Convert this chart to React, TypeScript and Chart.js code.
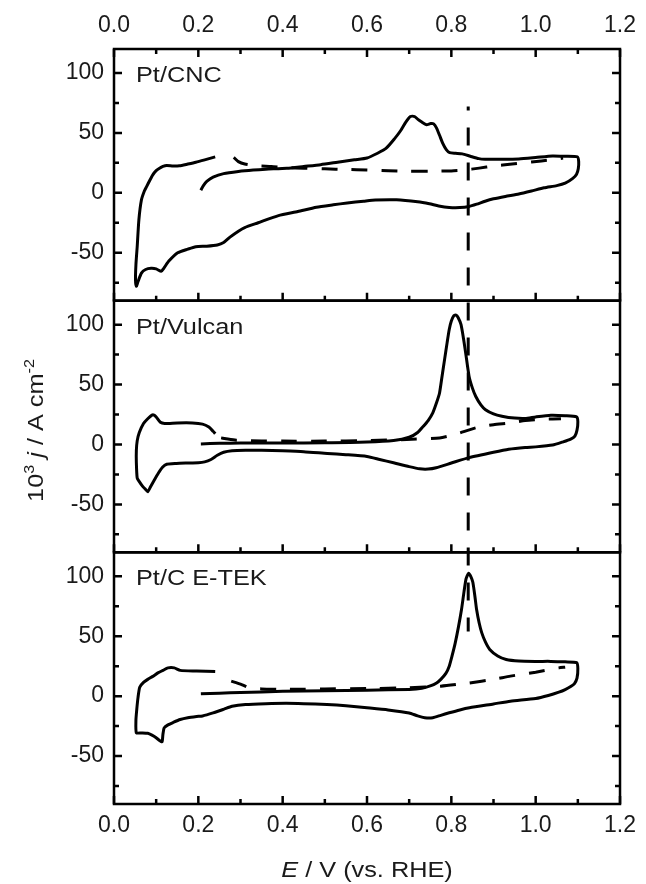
import React, { useEffect, useRef } from 'react';
import { Chart, registerables } from 'chart.js';

Chart.register(...registerables);

const FONT = '"Liberation Sans", Arial, Helvetica, sans-serif';

// ---- axes ----
const xMin = 0;
const xMax = 1.2;
const yMin = -90;
const yMax = 120;
const xMajorTicks = [0, 0.2, 0.4, 0.6, 0.8, 1.0, 1.2];
const xMinorTicks = [0.1, 0.3, 0.5, 0.7, 0.9, 1.1];
const yMajorTicks = [-50, 0, 50, 100];
const yMinorTicks = [-75, -25, 25, 75];
const panelNames = ['Pt/CNC', 'Pt/Vulcan', 'Pt/C E-TEK'];

// vertical reference line (E, top value in panel 1, bottom value in panel 3)
const markerE = 0.84;
const markerTopJ = 72;
const markerBottomJ = 54;

// ---- Pt/CNC ----
const cncSolidE = [0.206, 0.212, 0.22, 0.235, 0.26, 0.295, 0.33, 0.36, 0.41, 0.45, 0.49, 0.53, 0.57, 0.6, 0.625, 0.645, 0.665, 0.68, 0.692, 0.703, 0.713, 0.72, 0.73, 0.741, 0.751, 0.758, 0.765, 0.772, 0.78, 0.788, 0.796, 0.81, 0.826, 0.845, 0.865, 0.88, 0.92, 0.96, 1.0, 1.04, 1.07, 1.099, 1.102, 1.101, 1.097, 1.088, 1.07, 1.05, 1.02, 0.99, 0.96, 0.928, 0.9, 0.88, 0.86, 0.842, 0.82, 0.795, 0.77, 0.748, 0.72, 0.67, 0.62, 0.592, 0.553, 0.52, 0.48, 0.436, 0.39, 0.342, 0.31, 0.295, 0.275, 0.26, 0.245, 0.22, 0.194, 0.175, 0.151, 0.13, 0.118, 0.112, 0.1, 0.088, 0.075, 0.065, 0.057, 0.053, 0.051, 0.052, 0.055, 0.059, 0.065, 0.072, 0.077, 0.085, 0.092, 0.1, 0.108, 0.116, 0.125, 0.14, 0.155, 0.175, 0.194, 0.215, 0.24];
const cncSolidJ = [2.2, 6, 9.5, 13, 16, 17.8, 19, 19.7, 20.5, 22, 23.5, 25.5, 27.5, 29, 33, 37, 45, 52, 59, 63.6, 63.6, 61.5, 59, 56.8, 57.8, 57.5, 54, 48, 41, 36, 33.5, 33, 32.5, 30.5, 28.5, 28, 28, 28.3, 29.5, 30.8, 30.5, 30, 26, 20, 15.5, 12, 8, 6, 4.2, 1.5, -1, -3, -5, -7, -9.5, -11.4, -12.3, -12.2, -11, -9.2, -7.5, -5.8, -6, -7, -8.5, -10, -12, -15.6, -19, -25, -29, -32, -37, -41.5, -43.5, -44.5, -45, -47, -50, -57, -63, -65.5, -63.5, -63, -64, -67, -74, -78, -73, -60, -45, -22.5, -6, 1.5, 5, 10.5, 15, 18.5, 20.5, 22, 22.8, 22.3, 22.5, 24, 25.5, 27.5, 30];
const cncDashE = [0.284, 0.295, 0.31, 0.34, 0.373, 0.41, 0.45, 0.5, 0.55, 0.6, 0.65, 0.7, 0.75, 0.8, 0.83, 0.866, 0.9, 0.944, 0.99, 1.037, 1.065];
const cncDashJ = [29.5, 26, 24, 22.5, 22, 21, 20.5, 20, 19.5, 19, 18.5, 18, 18, 18.3, 19, 20.6, 22.3, 24, 25.8, 27.5, 29];

// ---- Pt/Vulcan ----
const vulSolidE = [0.206, 0.25, 0.3, 0.4, 0.5, 0.6, 0.663, 0.7, 0.72, 0.733, 0.745, 0.756, 0.765, 0.772, 0.778, 0.784, 0.79, 0.795, 0.8, 0.806, 0.811, 0.816, 0.823, 0.829, 0.834, 0.842, 0.85, 0.858, 0.87, 0.881, 0.9, 0.92, 0.95, 0.975, 1.0, 1.036, 1.07, 1.097, 1.1, 1.098, 1.093, 1.083, 1.065, 1.04, 1.0, 0.975, 0.936, 0.9, 0.842, 0.8, 0.764, 0.745, 0.725, 0.7, 0.663, 0.63, 0.6, 0.55, 0.506, 0.45, 0.4, 0.35, 0.312, 0.28, 0.26, 0.245, 0.23, 0.215, 0.2, 0.17, 0.148, 0.125, 0.115, 0.105, 0.095, 0.087, 0.08, 0.075, 0.068, 0.06, 0.055, 0.053, 0.053, 0.055, 0.06, 0.07, 0.08, 0.09, 0.095, 0.1, 0.11, 0.12, 0.15, 0.186, 0.21, 0.225, 0.235, 0.24];
const vulSolidJ = [0.5, 1, 1.2, 1.3, 1.4, 2, 3.3, 6, 10, 15, 20, 26.4, 35, 43, 57, 71, 85, 96, 103, 107.5, 108, 106, 100, 88, 76.4, 57, 47, 40, 33, 29, 25.5, 23.6, 22, 21.7, 23, 24.4, 24, 23, 19, 12, 7, 4.5, 2.2, -0.5, -2, -2.5, -4, -6.5, -11, -15.5, -19.4, -20.5, -20.3, -18.5, -15.3, -12.5, -10, -8.5, -7.5, -6, -5.3, -4.8, -4.8, -5.2, -6.5, -9, -12.5, -14.5, -15.2, -15.5, -15.8, -16.5, -19, -24, -30, -35, -39.4, -37.5, -35, -31, -28, -15, -5, 3, 10, 17.5, 21.5, 24.5, 24.5, 23, 18.5, 17.5, 18, 18, 17, 14.5, 11, 9];
const vulDashE = [0.254, 0.27, 0.29, 0.35, 0.4, 0.5, 0.6, 0.694, 0.772, 0.81, 0.858, 0.9, 0.94, 0.975, 1.02, 1.06];
const vulDashJ = [5.5, 4.5, 3.6, 3, 2.8, 2.8, 3.2, 4.2, 5.5, 8.5, 13.9, 16.5, 18, 20, 21, 21.5];

// ---- Pt/C E-TEK ----
const etekSolidE = [0.206, 0.25, 0.3, 0.4, 0.5, 0.6, 0.7, 0.73, 0.75, 0.765, 0.775, 0.787, 0.795, 0.802, 0.809, 0.817, 0.824, 0.83, 0.835, 0.841, 0.846, 0.851, 0.856, 0.86, 0.866, 0.872, 0.881, 0.891, 0.91, 0.93, 0.96, 1.0, 1.036, 1.07, 1.097, 1.1, 1.098, 1.092, 1.084, 1.07, 1.055, 1.03, 1.0, 0.94, 0.9, 0.843, 0.82, 0.795, 0.775, 0.756, 0.737, 0.72, 0.7, 0.65, 0.6, 0.55, 0.505, 0.45, 0.408, 0.36, 0.312, 0.28, 0.26, 0.235, 0.21, 0.196, 0.175, 0.157, 0.14, 0.128, 0.119, 0.116, 0.114, 0.108, 0.1, 0.09, 0.08, 0.065, 0.053, 0.052, 0.054, 0.057, 0.061, 0.07, 0.08, 0.092, 0.104, 0.116, 0.128, 0.143, 0.157, 0.196, 0.24];
const etekSolidJ = [2, 2.5, 3, 4, 4.5, 5, 5.6, 6.5, 8.5, 11, 14, 19, 25, 34, 44, 58, 72, 87, 98, 102.5, 100, 95, 83, 72, 61, 53, 45, 39, 33.5, 30.6, 29.3, 29, 29, 28.6, 28, 23, 15, 10.5, 8.3, 5.5, 3.3, 0.5, -2, -4.2, -6.5, -9.7, -11.5, -13.9, -16, -18, -18, -16.5, -14, -11.5, -9.7, -8, -7, -6.3, -6, -6.3, -7, -8.5, -11, -14, -16.5, -17, -18, -19.5, -22, -24, -26.5, -32, -38, -37, -34.7, -32.5, -31, -30.7, -30.6, -20, -11, -1, 7.5, 11.5, 14, 16.5, 19.4, 21.5, 23.6, 23.6, 21.5, 21, 20.5];
const etekDashE = [0.278, 0.3, 0.321, 0.35, 0.389, 0.45, 0.5, 0.6, 0.7, 0.775, 0.843, 0.9, 0.94, 1.0, 1.055, 1.07];
const etekDashJ = [12.5, 10, 7, 6, 5.8, 5.8, 6, 6.3, 7, 8.3, 11, 14, 16.7, 20, 23.6, 24.2];

const SERIES = [
  { e: cncSolidE, j: cncSolidJ, axis: 'y1', dashed: false },
  { e: cncDashE, j: cncDashJ, axis: 'y1', dashed: true },
  { e: vulSolidE, j: vulSolidJ, axis: 'y2', dashed: false },
  { e: vulDashE, j: vulDashJ, axis: 'y2', dashed: true },
  { e: etekSolidE, j: etekSolidJ, axis: 'y3', dashed: false },
  { e: etekDashE, j: etekDashJ, axis: 'y3', dashed: true },
];

const TEXT_STRETCH = 1.15;

type Run = { t: string; f: string; dy?: number };

function drawRuns(ctx: CanvasRenderingContext2D, runs: Run[], cx: number, cy: number, rot: number) {
  ctx.save();
  ctx.translate(cx, cy);
  ctx.rotate(rot);
  ctx.scale(TEXT_STRETCH, 1);
  let total = 0;
  for (const r of runs) {
    ctx.font = r.f;
    total += ctx.measureText(r.t).width;
  }
  let x = -total / 2;
  ctx.textBaseline = 'alphabetic';
  ctx.textAlign = 'left';
  for (const r of runs) {
    ctx.font = r.f;
    ctx.fillText(r.t, x, r.dy || 0);
    x += ctx.measureText(r.t).width;
  }
  ctx.restore();
}

const framePlugin = {
  id: 'panelFrame',
  afterDatasetsDraw(chart: any) {
    const ctx: CanvasRenderingContext2D = chart.ctx;
    const { left, right } = chart.chartArea;
    const xs = chart.scales.x;
    const ys = [chart.scales.y1, chart.scales.y2, chart.scales.y3];
    ctx.save();
    ctx.strokeStyle = '#000';
    ctx.fillStyle = '#1a1a1a';

    // vertical dashed reference line
    const mx = xs.getPixelForValue(markerE);
    ctx.lineWidth = 3;
    ctx.setLineDash([18, 17]);
    ctx.lineDashOffset = 14;
    ctx.beginPath();
    ctx.moveTo(mx, ys[0].getPixelForValue(markerTopJ));
    ctx.lineTo(mx, ys[2].getPixelForValue(markerBottomJ));
    ctx.stroke();
    ctx.setLineDash([]);
    ctx.lineDashOffset = 0;

    ctx.lineWidth = 2.5;
    ys.forEach((ys1: any, i: number) => {
      const top = ys1.top;
      const bottom = ys1.bottom;
      ctx.strokeRect(left, top, right - left, bottom - top);
      ctx.beginPath();
      const yTick = (v: number, len: number) => {
        const py = ys1.getPixelForValue(v);
        ctx.moveTo(left, py);
        ctx.lineTo(left + len, py);
        ctx.moveTo(right, py);
        ctx.lineTo(right - len, py);
      };
      yMajorTicks.forEach((v) => yTick(v, 8));
      yMinorTicks.forEach((v) => yTick(v, 5));
      const xTick = (v: number, len: number) => {
        const px = xs.getPixelForValue(v);
        ctx.moveTo(px, bottom);
        ctx.lineTo(px, bottom - len);
        if (i === 0) {
          ctx.moveTo(px, top);
          ctx.lineTo(px, top + len);
        }
      };
      xMajorTicks.forEach((v) => xTick(v, 8));
      xMinorTicks.forEach((v) => xTick(v, 5));
      ctx.stroke();

      // panel label
      ctx.save();
      ctx.translate(left + 22, ys1.getPixelForValue(100) + 9);
      ctx.scale(TEXT_STRETCH, 1);
      ctx.font = `22px ${FONT}`;
      ctx.textAlign = 'left';
      ctx.textBaseline = 'alphabetic';
      ctx.fillText(panelNames[i], 0, 0);
      ctx.restore();
    });

    // axis titles
    drawRuns(ctx, [
      { t: 'E', f: `italic 22px ${FONT}` },
      { t: ' / V (vs. RHE)', f: `22px ${FONT}` },
    ], (left + right) / 2, 877, 0);

    const mid = (ys[1].top + ys[1].bottom) / 2;
    drawRuns(ctx, [
      { t: '10', f: `22px ${FONT}` },
      { t: '3', f: `14px ${FONT}`, dy: -9 },
      { t: ' ', f: `22px ${FONT}` },
      { t: 'j', f: `italic 22px ${FONT}` },
      { t: ' / A cm', f: `22px ${FONT}` },
      { t: '-2', f: `14px ${FONT}`, dy: -9 },
    ], 43, mid + 4, -Math.PI / 2);
    ctx.restore();
  },
};

const tickFont = { family: FONT, size: 23 };

function yAxis(weight: number) {
  return {
    type: 'linear' as const,
    position: 'left' as const,
    stack: 'panels',
    stackWeight: 1,
    weight,
    min: yMin,
    max: yMax,
    afterBuildTicks: (s: any) => { s.ticks = yMajorTicks.map((v) => ({ value: v })); },
    afterFit: (s: any) => { s.width = 114; },
    ticks: { font: tickFont, color: '#1a1a1a', padding: 10, autoSkip: false, callback: (v: any) => String(v) },
    grid: { display: false, drawTicks: false },
    border: { display: false },
  };
}

function xAxis(position: 'top' | 'bottom', height: number, padding: number) {
  return {
    type: 'linear' as const,
    position,
    min: xMin,
    max: xMax,
    afterBuildTicks: (s: any) => { s.ticks = xMajorTicks.map((v) => ({ value: v })); },
    afterFit: (s: any) => { s.height = height; },
    ticks: { font: tickFont, color: '#1a1a1a', padding, autoSkip: false, maxRotation: 0, callback: (v: any) => Number(v).toFixed(1) },
    grid: { display: false, drawTicks: false },
    border: { display: false },
  };
}

export default function App() {
  const ref = useRef<HTMLCanvasElement | null>(null);
  useEffect(() => {
    if (!ref.current) return;
    const chart = new Chart(ref.current, {
      type: 'scatter',
      data: {
        datasets: SERIES.map((s) => ({
          data: s.e.map((e, k) => ({ x: e, y: s.j[k] })),
          xAxisID: 'x',
          yAxisID: s.axis,
          showLine: true,
          borderColor: '#000',
          backgroundColor: '#000',
          borderWidth: 3,
          borderDash: s.dashed ? [16, 14] : [],
          pointRadius: 0,
          tension: 0.2,
          fill: false,
        })),
      },
      options: {
        animation: false,
        responsive: false,
        layout: { padding: { left: 0, right: 20, top: 0, bottom: 0 } },
        plugins: { legend: { display: false }, tooltip: { enabled: false } },
        scales: {
          x: xAxis('bottom', 80, 8),
          xTop: xAxis('top', 49, 10),
          y1: yAxis(3),
          y2: yAxis(2),
          y3: yAxis(1),
        } as any,
      },
      plugins: [framePlugin],
    });
    return () => chart.destroy();
  }, []);
  return (
    <div style={{ position: 'fixed', left: 0, top: 0, width: 646, height: 884, background: '#fff' }}>
      <canvas ref={ref} width={646} height={884} style={{ display: 'block', width: 646, height: 884 }} />
    </div>
  );
}
